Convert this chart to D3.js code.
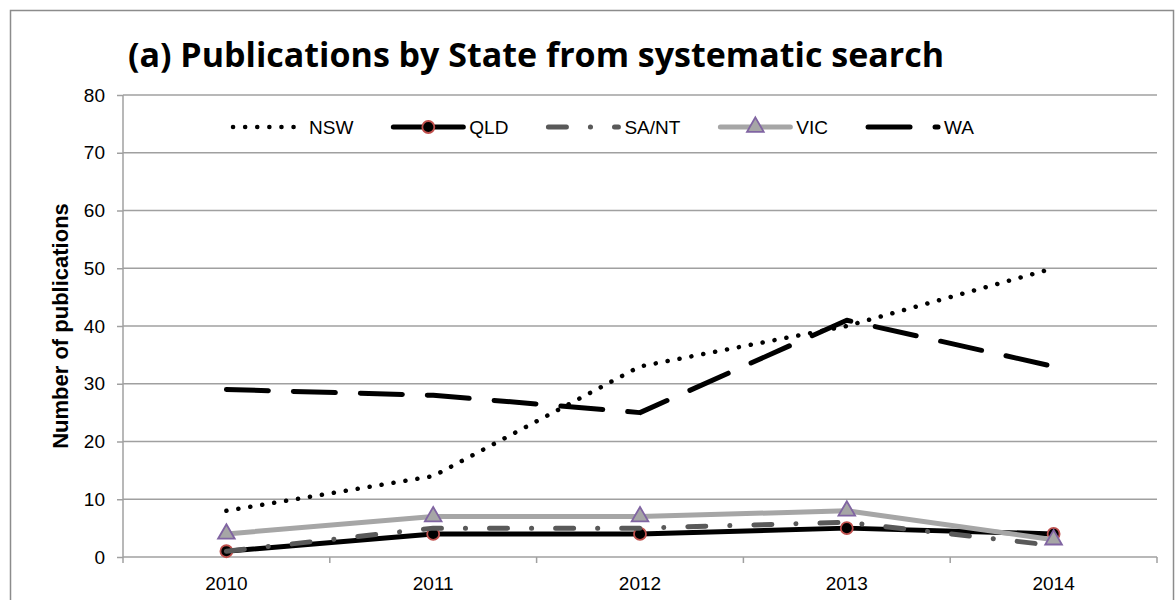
<!DOCTYPE html>
<html>
<head>
<meta charset="utf-8">
<script src="https://cdn.jsdelivr.net/npm/d3@7"></script>
<style>
  body { margin: 0; background: #fff; }
  svg text { font-family: "Liberation Sans", Arial, sans-serif; fill: #000; }
  .title { font-family: "Open Sans", sans-serif; font-weight: bold; }
</style>
</head>
<body>
<div class="chart"></div>
<script>
// chart data
const years = ['2010', '2011', '2012', '2013', '2014'];
const yTicks = [0, 10, 20, 30, 40, 50, 60, 70, 80];
const seriesNames = ['NSW', 'QLD', 'SA/NT', 'VIC', 'WA'];
const nsw  = [8, 14, 33, 40, 50];
const qld  = [1, 4, 4, 5, 4];
const sant = [1, 5, 5, 6, 2];
const vic  = [4, 7, 7, 8, 3];
const wa   = [29, 28, 25, 41, 33];
const seriesValues = [nsw, qld, sant, vic, wa];

// line looks, one per series
const looks = [
    {color: '#000',    width: 4.5, dash: '0.1 12',          marker: null},
    {color: '#000',    width: 5,   dash: null,              marker: 'circle'},
    {color: '#595959', width: 5,   dash: '18 24 0.1 24',    marker: null},
    {color: '#a6a6a6', width: 5,   dash: null,              marker: 'triangle'},
    {color: '#000',    width: 5,   dash: '42 25',           marker: null}
];

const svg_width = 1176, svg_height = 600;
const margin = {top: 95, right: 19, bottom: 43, left: 123};
const chart_width = svg_width - margin.left - margin.right;
const chart_height = svg_height - margin.top - margin.bottom;

const svg = d3.select('.chart').append('svg')
    .attr('width', svg_width).attr('height', svg_height);

// outer frame
svg.append('rect').attr('x', 10.5).attr('y', 10.5)
    .attr('width', 1163).attr('height', 640)
    .attr('fill', 'none').attr('stroke', '#8c8c8c').attr('stroke-width', 1.5);

const g = svg.append('g').attr('transform', `translate(${margin.left},${margin.top})`);

const xScale = d3.scaleBand().domain(years).range([0, chart_width]).padding(0);
const xPos = d => xScale(d) + xScale.bandwidth() / 2;
const yScale = d3.scaleLinear().domain([0, 80]).range([chart_height, 0]);

// gridlines
g.append('g').selectAll('line').data(yTicks.filter(d => d > 0)).join('line')
    .attr('x1', 0).attr('x2', chart_width)
    .attr('y1', d => yScale(d)).attr('y2', d => yScale(d))
    .attr('stroke', '#a0a0a0').attr('stroke-width', 1.5);

// y axis
const yAxis = d3.axisLeft(yScale).tickValues(yTicks).tickSize(6).tickPadding(12);
const yAxisDraw = g.append('g').call(yAxis);
yAxisDraw.select('.domain').attr('d', `M0,${chart_height + 6}V0`);
yAxisDraw.selectAll('path, line').attr('stroke', '#a0a0a0').attr('stroke-width', 1.5);
yAxisDraw.selectAll('text').style('font-size', '19px').attr('fill', '#000')
    .attr('font-family', '"Liberation Sans", Arial, sans-serif');

// x axis, ticks between the categories
const xAxisG = g.append('g').attr('transform', `translate(0,${chart_height})`);
xAxisG.append('line').attr('x1', 0).attr('x2', chart_width)
    .attr('stroke', '#a0a0a0').attr('stroke-width', 1.5);
xAxisG.selectAll('.tick-mark').data(years).join('line')
    .attr('class', 'tick-mark')
    .attr('x1', (d, i) => xScale.step() * (i + 1)).attr('x2', (d, i) => xScale.step() * (i + 1))
    .attr('y1', 0).attr('y2', 6)
    .attr('stroke', '#a0a0a0').attr('stroke-width', 1.5);
xAxisG.selectAll('.xlab').data(years).join('text')
    .attr('class', 'xlab')
    .attr('x', d => xPos(d)).attr('y', 33)
    .attr('text-anchor', 'middle').style('font-size', '19px')
    .text(d => d);

// y axis title
svg.append('text')
    .attr('transform', `translate(68,${margin.top + chart_height / 2}) rotate(-90)`)
    .attr('text-anchor', 'middle')
    .style('font-size', '22px').style('font-weight', 'bold')
    .text('Number of publications');

// title
svg.append('text').attr('class', 'title')
    .attr('x', 536).attr('y', 67).attr('text-anchor', 'middle')
    .style('font-size', '34px')
    .text('(a) Publications by State from systematic search');

// lines
const line = d3.line().x(d => xPos(d.year)).y(d => yScale(d.value));
const triangle = d3.symbol().type(d3.symbolTriangle).size(120);

seriesNames.forEach((name, i) => {
    const pts = years.map((y, j) => ({year: y, value: seriesValues[i][j]}));
    const lk = looks[i];
    const sg = g.append('g').attr('class', 'series');
    sg.append('path').datum(pts)
        .attr('d', line)
        .attr('fill', 'none')
        .attr('stroke', lk.color)
        .attr('stroke-width', lk.width)
        .attr('stroke-linecap', 'round')
        .attr('stroke-linejoin', 'round')
        .attr('stroke-dasharray', lk.dash);
    if (lk.marker === 'circle') {
        sg.selectAll('circle').data(pts).join('circle')
            .attr('cx', d => xPos(d.year)).attr('cy', d => yScale(d.value))
            .attr('r', 6).attr('fill', '#000')
            .attr('stroke', '#c0504d').attr('stroke-width', 1.8);
    }
    if (lk.marker === 'triangle') {
        sg.selectAll('path.mk').data(pts).join('path').attr('class', 'mk')
            .attr('d', triangle)
            .attr('transform', d => `translate(${xPos(d.year)},${yScale(d.value)})`)
            .attr('fill', '#a6a6a6')
            .attr('stroke', '#8064a2').attr('stroke-width', 1.8);
    }
});

// legend
const legend = svg.append('g').attr('transform', 'translate(233,127)');
let lx = 0;
seriesNames.forEach((name, i) => {
    const lk = looks[i];
    const item = legend.append('g').attr('transform', `translate(${lx},0)`);
    item.append('line').attr('x1', 0).attr('x2', 70).attr('y1', 0).attr('y2', 0)
        .attr('stroke', lk.color).attr('stroke-width', lk.width)
        .attr('stroke-linecap', 'round')
        .attr('stroke-dasharray', lk.dash);
    if (lk.marker === 'circle') {
        item.append('circle').attr('cx', 35).attr('cy', 0).attr('r', 6)
            .attr('fill', '#000').attr('stroke', '#c0504d').attr('stroke-width', 1.8);
    }
    if (lk.marker === 'triangle') {
        item.append('path').attr('d', triangle)
            .attr('transform', 'translate(35,0)')
            .attr('fill', '#a6a6a6').attr('stroke', '#8064a2').attr('stroke-width', 1.8);
    }
    const t = item.append('text').attr('x', 76).attr('y', 7)
        .style('font-size', '19px').text(name);
    lx += 76 + t.node().getComputedTextLength() + 40;
});
</script>
</body>
</html>
